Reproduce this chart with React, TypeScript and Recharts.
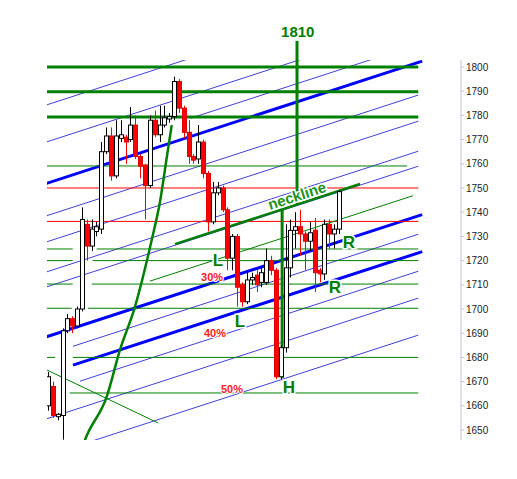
import React from 'react';
import { ComposedChart, Bar, XAxis, YAxis, ReferenceLine, ReferenceDot, Line } from 'recharts';

// ---- candles (index = session number) ----
const opens = [1660, 1668, 1655.5, 1656, 1691, 1696, 1693, 1700, 1735, 1726, 1732, 1733, 1765, 1771.5, 1755, 1770.5, 1771, 1770, 1776, 1763, 1759.5, 1751, 1778, 1772, 1776, 1778.5, 1779.5, 1794, 1783, 1773, 1763, 1762, 1769, 1756, 1736, 1748, 1750, 1741, 1721, 1730, 1710, 1703, 1712, 1714, 1711, 1711, 1720, 1716, 1672, 1684, 1717, 1732.5, 1734, 1731, 1728, 1732.6, 1716, 1714.5, 1735, 1731, 1733];
const highs = [1674, 1670, 1657, 1692, 1698, 1697, 1701, 1742, 1737, 1737, 1736, 1769, 1775, 1775, 1778, 1778, 1772, 1783.5, 1780, 1764, 1760, 1780, 1782, 1784, 1784, 1781, 1796, 1795, 1784, 1778, 1764, 1776, 1770, 1757, 1752.5, 1752.5, 1751, 1742, 1731, 1731, 1711, 1716, 1715, 1716, 1717, 1725, 1722, 1717, 1685, 1735, 1737, 1740, 1741, 1732, 1736, 1737.6, 1717, 1737, 1737, 1735, 1749];
const lows = [1658, 1655, 1654, 1646, 1690, 1690, 1692, 1699, 1720, 1724, 1730, 1731, 1764, 1753, 1754, 1769, 1760, 1769, 1762, 1754, 1737, 1750, 1771, 1769, 1775, 1777, 1778, 1781, 1770.5, 1760, 1760, 1760, 1754, 1732, 1735, 1747, 1740, 1716, 1716, 1701, 1701, 1702, 1710, 1707, 1709, 1710, 1714, 1671, 1671, 1682, 1713, 1725, 1722, 1716, 1724, 1707, 1711, 1712, 1725, 1725, 1731];
const closes = [1672, 1656, 1656.5, 1691, 1696, 1693, 1700, 1737, 1726, 1733, 1734, 1765, 1771.5, 1755, 1771.5, 1772, 1769, 1776, 1763, 1759, 1751, 1778, 1772, 1776, 1779, 1779.5, 1794, 1783, 1773, 1763, 1761.5, 1769, 1756, 1736, 1748, 1750, 1741, 1721, 1730, 1709, 1703, 1712, 1713, 1710, 1715, 1720, 1716, 1672, 1684, 1717, 1732.5, 1734, 1731, 1728, 1731.5, 1715, 1714.5, 1735, 1731, 1733, 1748.5];

const yTicks = [1650, 1660, 1670, 1680, 1690, 1700, 1710, 1720, 1730, 1740, 1750, 1760, 1770, 1780, 1790, 1800];

// ---- horizontal levels: [price, fromIndex, toIndex] ----
const thickGreenLevels = [[1800, -0.33, 76.34], [1789.8, -0.33, 76.34], [1779.3, -0.33, 76.34]];
const thinGreenLevels = [
  [1759.1, -0.33, 74.03],
  [1724.8, -0.33, 5.1], [1724.8, 10.03, 76.34],
  [1720, -0.33, 5.1], [1720, 9.23, 76.34],
  [1710.3, -0.33, 5.1], [1710.3, 9.03, 76.34],
  [1700.3, -0.33, 4.9], [1700.3, 8.22, 76.34],
  [1680, -0.33, 1.48], [1680, 5.1, 76.34],
  [1665.3, 4.5, 76.34],
];
const redLevels = [[1750, -0.33, 76.34], [1736.2, -0.33, 76.34]];

// ---- trend / channel lines: [i1, p1, i2, p2] ----
const thinBlueLines = [
  [-0.33, 1784.3, 76.34, 1834.2],
  [-0.33, 1769.0, 76.34, 1818.9],
  [29.35, 1778.8, 76.34, 1809.4],
  [-0.33, 1738.5, 76.34, 1788.4],
  [-0.33, 1727.7, 76.34, 1777.6],
  [-0.33, 1715.3, 76.34, 1765.2],
  [-0.33, 1709.1, 76.34, 1759.0],
  [5.15, 1684.6, 76.34, 1730.9],
  [6.61, 1670.2, 76.34, 1715.6],
  [-0.33, 1654.6, 76.34, 1704.5],
  [-0.33, 1639.3, 76.34, 1689.2],
];
const thickBlueLines = [
  [-0.33, 1751.9, 77.15, 1802.4],
  [-0.33, 1688.5, 77.15, 1739.0],
  [5.15, 1676.8, 77.15, 1723.7],
];
const thinGreenDiagonals = [
  [21.0, 1711.5, 75.23, 1746.8],
  [-0.33, 1674.9, 22.71, 1652.9],
];
const necklineSeg = [26.18, 1726.8, 64.33, 1751.65];
const verticals = [
  [51.34, 1743.2, 1810.8],
  [48.27, 1740.9, 1671.5],
];

// ---- curved support ----
const curveIdx = [6.8, 7.63, 12.11, 14.84, 17.94, 21.38, 23.09, 24.47, 25.51];
const curvePrice = [1641.1, 1645.9, 1663.8, 1683.1, 1701.0, 1728.5, 1744.3, 1762.4, 1776.0];

// ---- annotations: [text, index, price, kind] ----
const notes: [string, number, number, string][] = [
  ['1810', 51.49, 1812.4, 'title'],
  ['L', 35.05, 1717.8, 'big'],
  ['30%', 33.82, 1711.6, 'pct'],
  ['L', 39.59, 1692.6, 'big'],
  ['40%', 34.43, 1688.4, 'pct'],
  ['50%', 37.94, 1665.3, 'pct'],
  ['H', 49.68, 1665.3, 'big'],
  ['R', 62.05, 1725.2, 'big'],
  ['R', 59.14, 1706.6, 'big'],
  ['neckline', 51.34, 1746.7, 'neck'],
];

const FONT = 'Liberation Sans, Arial, sans-serif';
const GREEN = '#008000';
const BLUE = '#4040dc';

const tagStyle: Record<string, any> = {
  title: { size: 15, color: GREEN, halo: 0, rotate: 0, dy: 0 },
  big: { size: 17, color: GREEN, halo: 3, rotate: 0, dy: 0 },
  pct: { size: 11, color: '#ff2020', halo: 2, rotate: 0, dy: 0 },
  neck: { size: 15, color: '#1a941a', halo: 3, rotate: -18, dy: 5 },
};

const Tag = (props: any) => {
  const { viewBox, text, kind } = props;
  if (!viewBox) return null;
  const s = tagStyle[kind];
  const x = viewBox.x + (viewBox.width || 0) / 2;
  const y = viewBox.y + (viewBox.height || 0) / 2;
  return (
    <text
      x={x}
      y={y + s.dy}
      textAnchor="middle"
      fontFamily={FONT}
      fontWeight="bold"
      fontSize={s.size}
      fill={s.color}
      stroke={s.halo ? '#fff' : 'none'}
      strokeWidth={s.halo}
      paintOrder="stroke"
      transform={s.rotate ? `rotate(${s.rotate} ${x} ${y})` : undefined}
    >
      {text}
    </text>
  );
};

const Candle = (props: any) => {
  const { x, y, width, height, payload } = props;
  if (!payload || height == null) return null;
  const { o, c, h, l } = payload;
  const span = h - l || 1;
  const py = (v: number) => y + ((h - v) / span) * height;
  const up = c >= o;
  const cx = Math.round(x + width / 2) + 0.5;
  const top = py(Math.max(o, c));
  const bot = py(Math.min(o, c));
  const bodyH = Math.max(bot - top, 1);
  const col = up ? '#000' : '#ff0000';
  return (
    <g>
      <line x1={cx} x2={cx} y1={y} y2={y + height} stroke={col} strokeWidth={1} />
      <rect
        x={cx - 2}
        y={top}
        width={4}
        height={bodyH}
        fill={up ? '#fff' : '#ff0000'}
        stroke={up ? '#000' : '#e00000'}
        strokeWidth={1}
      />
    </g>
  );
};

export default function App() {
  const data = opens.map((o, k) => ({ i: k, o, h: highs[k], l: lows[k], c: closes[k], range: [lows[k], highs[k]] }));
  const curve = curveIdx.map((i, k) => ({ i, p: curvePrice[k] }));
  const seg = (s: number[]) => [{ x: s[0], y: s[1] }, { x: s[2], y: s[3] }] as any;
  const hseg = (s: number[]) => [{ x: s[1], y: s[0] }, { x: s[2], y: s[0] }] as any;
  const zl: any = { zIndex: 50 };

  return (
    <div style={{ position: 'absolute', left: 0, top: 0, width: 517, height: 479, background: '#fff' }}>
      <ComposedChart width={517} height={479} data={data} margin={{ top: 60, right: 0, bottom: 39, left: 47 }}>
        <XAxis dataKey="i" type="number" domain={[-0.206, 85.15]} hide allowDataOverflow />
        <YAxis
          orientation="right"
          type="number"
          domain={[1645.87, 1802.89]}
          ticks={yTicks}
          interval={0}
          allowDataOverflow
          width={56}
          tickSize={3}
          tickMargin={2}
          axisLine={{ stroke: '#c4c4d8' }}
          tickLine={{ stroke: '#c4c4d8' }}
          tick={{ fontSize: 10, fill: '#222', fontFamily: FONT }}
        />

        {thinBlueLines.map((s, k) => (
          <ReferenceLine key={'tb' + k} {...zl} segment={seg(s)} stroke={BLUE} strokeWidth={1} ifOverflow="hidden" />
        ))}
        {thickBlueLines.map((s, k) => (
          <ReferenceLine key={'kb' + k} {...zl} segment={seg(s)} stroke="#0000ff" strokeWidth={3} ifOverflow="hidden" />
        ))}
        {thickGreenLevels.map((s, k) => (
          <ReferenceLine key={'kg' + k} {...zl} segment={hseg(s)} stroke={GREEN} strokeWidth={3} ifOverflow="hidden" />
        ))}
        {thinGreenLevels.map((s, k) => (
          <ReferenceLine key={'tg' + k} {...zl} segment={hseg(s)} stroke={GREEN} strokeWidth={1} ifOverflow="hidden" />
        ))}
        {redLevels.map((s, k) => (
          <ReferenceLine key={'rd' + k} {...zl} segment={hseg(s)} stroke="#ff0000" strokeWidth={1} ifOverflow="hidden" />
        ))}
        {thinGreenDiagonals.map((s, k) => (
          <ReferenceLine key={'gd' + k} {...zl} segment={seg(s)} stroke={GREEN} strokeWidth={1} ifOverflow="hidden" />
        ))}
        <ReferenceLine {...zl} segment={seg(necklineSeg)} stroke={GREEN} strokeWidth={2.5} ifOverflow="hidden" />
        {verticals.map((v, k) => (
          <ReferenceLine
            key={'v' + k}
            {...zl}
            segment={[{ x: v[0], y: v[1] }, { x: v[0], y: v[2] }] as any}
            stroke={GREEN}
            strokeWidth={3}
            ifOverflow="visible"
          />
        ))}

        <Line
          {...zl}
          data={curve}
          dataKey="p"
          type="monotone"
          stroke={GREEN}
          strokeWidth={2.5}
          dot={false}
          isAnimationActive={false}
        />

        <Bar {...({ zIndex: 800 } as any)} dataKey="range" barSize={5} shape={<Candle />} isAnimationActive={false} />

        {notes.map((n, k) => (
          <ReferenceDot
            key={'n' + k}
            {...({ zIndex: 2500 } as any)}
            x={n[1]}
            y={n[2]}
            r={0}
            fill="none"
            stroke="none"
            ifOverflow="visible"
            label={<Tag text={n[0]} kind={n[3]} />}
          />
        ))}
      </ComposedChart>
    </div>
  );
}
